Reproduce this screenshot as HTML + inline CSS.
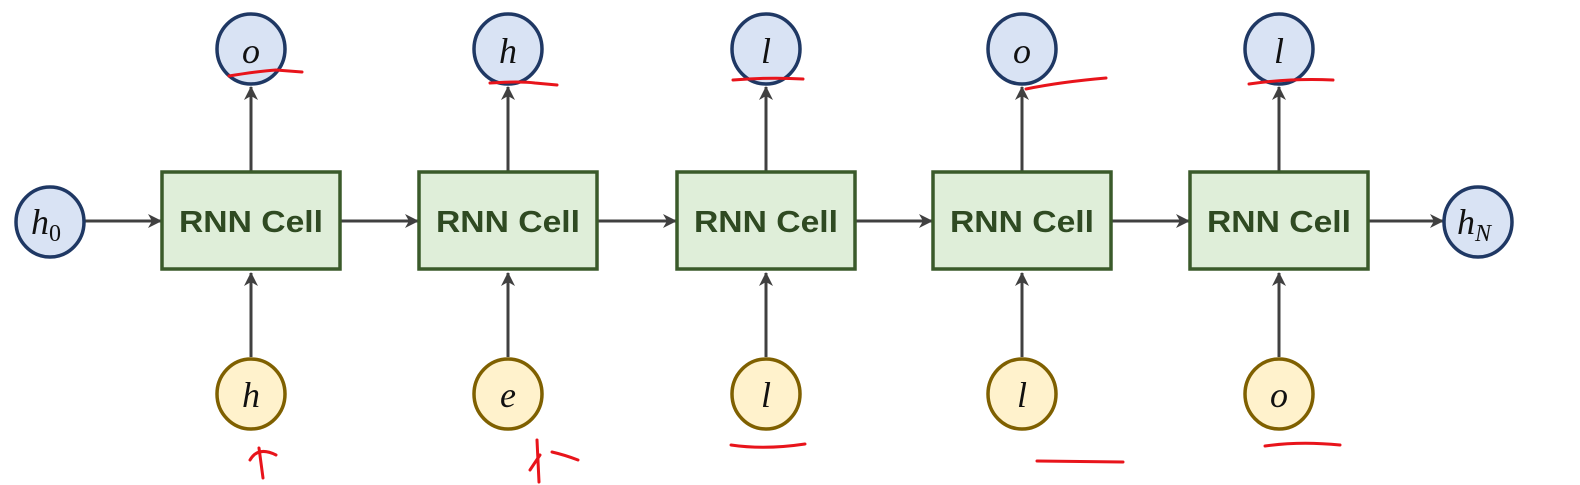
<!DOCTYPE html>
<html><head><meta charset="utf-8"><style>
html,body{margin:0;padding:0;background:#fff;width:1580px;height:485px;overflow:hidden}
.v{font-family:"Liberation Serif",serif;font-style:italic;font-size:36px;fill:#111}
.cell{font-family:"Liberation Sans",sans-serif;font-weight:bold;font-size:31px;fill:#2f4a22}
</style></head><body>
<svg width="1580" height="485" viewBox="0 0 1580 485" xmlns="http://www.w3.org/2000/svg">
<defs>
<marker id="a" markerWidth="14" markerHeight="14" refX="13" refY="7" orient="auto" markerUnits="userSpaceOnUse"><path d="M0,0 L14,7 L0,14 L4,7 Z" fill="#404040"/></marker>
</defs>
<g stroke="#404040" stroke-width="3" fill="none">
<line x1="85" y1="221" x2="161" y2="221" marker-end="url(#a)"/>
<line x1="341" y1="221" x2="418" y2="221" marker-end="url(#a)"/>
<line x1="598" y1="221" x2="676" y2="221" marker-end="url(#a)"/>
<line x1="856" y1="221" x2="932" y2="221" marker-end="url(#a)"/>
<line x1="1112" y1="221" x2="1189" y2="221" marker-end="url(#a)"/>
<line x1="1369" y1="221" x2="1443" y2="221" marker-end="url(#a)"/>
<line x1="251" y1="171" x2="251" y2="87" marker-end="url(#a)"/><line x1="251" y1="357" x2="251" y2="273" marker-end="url(#a)"/>
<line x1="508" y1="171" x2="508" y2="87" marker-end="url(#a)"/><line x1="508" y1="357" x2="508" y2="273" marker-end="url(#a)"/>
<line x1="766" y1="171" x2="766" y2="87" marker-end="url(#a)"/><line x1="766" y1="357" x2="766" y2="273" marker-end="url(#a)"/>
<line x1="1022" y1="171" x2="1022" y2="87" marker-end="url(#a)"/><line x1="1022" y1="357" x2="1022" y2="273" marker-end="url(#a)"/>
<line x1="1279" y1="171" x2="1279" y2="87" marker-end="url(#a)"/><line x1="1279" y1="357" x2="1279" y2="273" marker-end="url(#a)"/>
</g>
<g fill="#dfeed9" stroke="#3a5a2a" stroke-width="3.5">
<rect x="162" y="172" width="178" height="97"/>
<rect x="419" y="172" width="178" height="97"/>
<rect x="677" y="172" width="178" height="97"/>
<rect x="933" y="172" width="178" height="97"/>
<rect x="1190" y="172" width="178" height="97"/>
</g>
<g class="cell" text-anchor="middle">
<text x="251" y="232" textLength="144" lengthAdjust="spacingAndGlyphs">RNN Cell</text><text x="508" y="232" textLength="144" lengthAdjust="spacingAndGlyphs">RNN Cell</text><text x="766" y="232" textLength="144" lengthAdjust="spacingAndGlyphs">RNN Cell</text><text x="1022" y="232" textLength="144" lengthAdjust="spacingAndGlyphs">RNN Cell</text><text x="1279" y="232" textLength="144" lengthAdjust="spacingAndGlyphs">RNN Cell</text>
</g>
<g fill="#d9e3f4" stroke="#1f3864" stroke-width="3.5">
<ellipse cx="251" cy="49" rx="34" ry="35"/><ellipse cx="508" cy="49" rx="34" ry="35"/><ellipse cx="766" cy="49" rx="34" ry="35"/><ellipse cx="1022" cy="49" rx="34" ry="35"/><ellipse cx="1279" cy="49" rx="34" ry="35"/>
<ellipse cx="50" cy="222" rx="34" ry="35"/><ellipse cx="1478" cy="222" rx="34" ry="35"/>
</g>
<g fill="#fff2cc" stroke="#7f6000" stroke-width="3.5">
<ellipse cx="251" cy="394" rx="34" ry="35"/><ellipse cx="508" cy="394" rx="34" ry="35"/><ellipse cx="766" cy="394" rx="34" ry="35"/><ellipse cx="1022" cy="394" rx="34" ry="35"/><ellipse cx="1279" cy="394" rx="34" ry="35"/>
</g>
<g class="v" text-anchor="middle">
<text x="251" y="63">o</text><text x="508" y="63">h</text><text x="766" y="63">l</text><text x="1022" y="63">o</text><text x="1279" y="63">l</text>
<text x="251" y="407">h</text><text x="508" y="407">e</text><text x="766" y="407">l</text><text x="1022" y="407">l</text><text x="1279" y="407">o</text>
<text x="46" y="234">h<tspan font-size="24" dy="7" font-style="normal">0</tspan></text>
<text x="1474" y="234">h<tspan font-size="24" dy="7">N</tspan></text>
</g>
<g stroke="#e8141b" stroke-width="3" fill="none" stroke-linecap="round">
<path d="M229,76 Q260,71 276,70 L302,72"/>
<path d="M490,83 Q520,81 535,83 L557,85"/>
<path d="M733,80 Q770,77 803,79"/>
<path d="M1026,89 Q1060,82 1106,78"/>
<path d="M1249,84 Q1290,78 1333,80"/>
<path d="M259,448 L263,478"/><path d="M250,460 Q258,446 276,455"/>
<path d="M537,440 L539,482"/><path d="M530,470 L540,455"/><path d="M552,452 Q565,455 578,460"/>
<path d="M731,445 Q765,450 805,444"/>
<path d="M1037,461 L1123,462"/>
<path d="M1265,446 Q1300,441 1340,445"/>
</g>
</svg>
</body></html>
